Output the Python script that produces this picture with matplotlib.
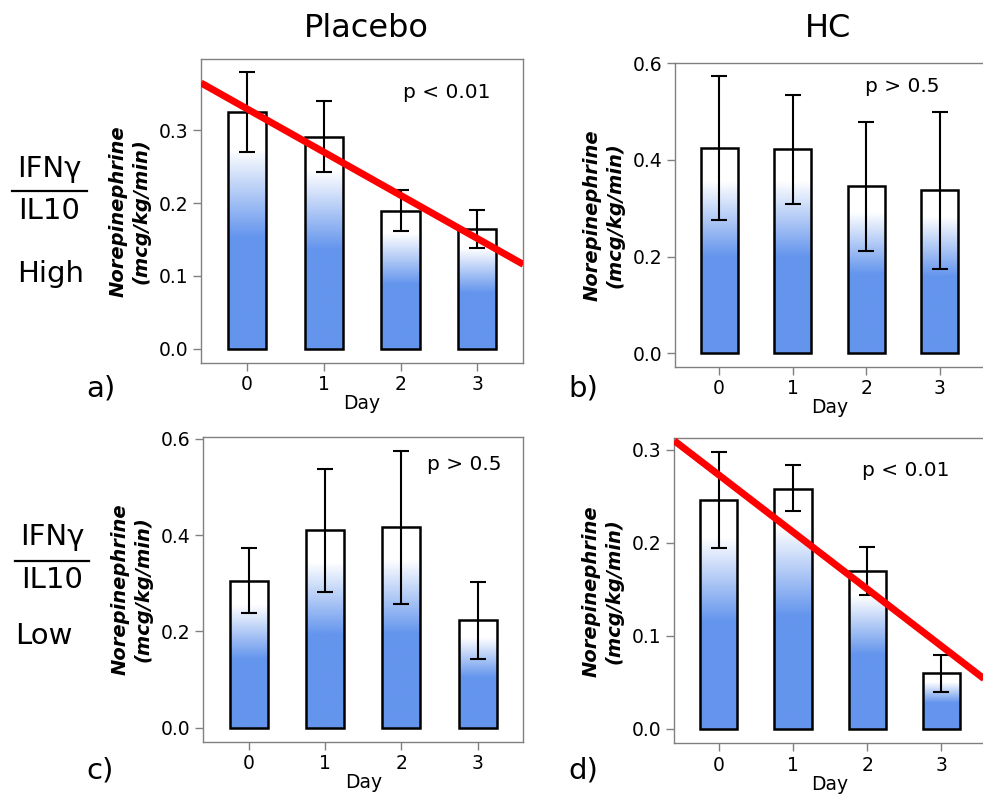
"""Norepinephrine dose by day: placebo vs HC, split by IFNγ/IL10 ratio."""

import numpy as np
import matplotlib
matplotlib.use("Agg")
import matplotlib.pyplot as plt
from matplotlib.colors import LinearSegmentedColormap
from matplotlib.lines import Line2D

W, H = 983, 794

days = [0, 1, 2, 3]

# a) placebo, high ratio
mean_a = [0.325, 0.291, 0.189, 0.164]
hi_a   = [0.379, 0.340, 0.218, 0.191]
lo_a   = [0.270, 0.242, 0.161, 0.138]
trend_a = (0.329, -0.0592)   # intercept, slope

# b) HC, high ratio
mean_b = [0.424, 0.422, 0.346, 0.337]
hi_b   = [0.574, 0.534, 0.478, 0.499]
lo_b   = [0.276, 0.308, 0.212, 0.174]

# c) placebo, low ratio
mean_c = [0.305, 0.411, 0.417, 0.223]
hi_c   = [0.373, 0.538, 0.576, 0.302]
lo_c   = [0.238, 0.283, 0.258, 0.143]

# d) HC, low ratio
mean_d = [0.246, 0.258, 0.170, 0.060]
hi_d   = [0.2975, 0.284, 0.196, 0.079]
lo_d   = [0.195, 0.234, 0.144, 0.040]
trend_d = (0.273, -0.0613)

BAR_W = 0.5
BLUE = "#6495ED"
SPINE = "#808080"

_cmap = LinearSegmentedColormap.from_list("bw", [BLUE, "white"])


def px_rect(left, top, right, bottom):
    return [left / W, 1 - bottom / H, (right - left) / W, (bottom - top) / H]


def _gradient(f1=0.47, f2=0.84, n=256):
    # solid blue at the base, linear fade, white cap at the top
    t = np.linspace(0, 1, n)
    c = np.clip((t - f1) / (f2 - f1), 0, 1)
    return c.reshape(-1, 1)


def draw_panel(ax, means, hi, lo, ylim, yticks, ptext, ppos, trend=None):
    means = np.array(means)
    grad = _gradient()
    for x, m in zip(days, means):
        ax.imshow(grad, extent=[x - BAR_W / 2, x + BAR_W / 2, 0, m],
                  origin="lower", aspect="auto", cmap=_cmap, vmin=0, vmax=1,
                  interpolation="bilinear", zorder=1)
    ax.bar(days, means, width=BAR_W, facecolor="none", edgecolor="black",
           linewidth=1.8, zorder=2)
    yerr = [means - np.array(lo), np.array(hi) - means]
    ax.errorbar(days, means, yerr=yerr, fmt="none", ecolor="black",
                elinewidth=1.5, capsize=6, capthick=1.5, zorder=3)
    if trend:
        xs = np.array([-0.6, 3.6])
        ax.plot(xs, trend[0] + trend[1] * xs, color="red", lw=5,
                solid_capstyle="butt", zorder=4)

    ax.set_xlim(-0.6, 3.6)
    ax.set_ylim(*ylim)
    ax.set_xticks(days)
    ax.set_yticks(yticks)
    ax.set_yticklabels([f"{v:.1f}" for v in yticks])
    for s in ax.spines.values():
        s.set_color(SPINE)
        s.set_linewidth(1)
    ax.tick_params(color=SPINE, length=6, width=1, labelsize=13.5, pad=3)
    ax.set_xlabel("Day", fontsize=13.5, labelpad=0)
    ax.set_ylabel("Norepinephrine\n(mcg/kg/min)", fontsize=14, fontweight="bold",
                  fontstyle="italic", labelpad=6, linespacing=1.25)
    ax.text(ppos[0], ppos[1], ptext, transform=ax.transAxes, fontsize=14.5,
            ha="left", va="baseline")


fig = plt.figure(figsize=(W / 100, H / 100), dpi=100)

ax_a = fig.add_axes(px_rect(201, 59, 523.3, 362.7))
ax_b = fig.add_axes(px_rect(675, 63.3, 984, 366.7))
ax_c = fig.add_axes(px_rect(203.3, 437.3, 523.3, 741.7))
ax_d = fig.add_axes(px_rect(674.3, 438.3, 986, 743.3))

draw_panel(ax_a, mean_a, hi_a, lo_a, (-0.0188, 0.3973), [0, 0.1, 0.2, 0.3],
           "p < 0.01", (0.627, 0.872), trend_a)
draw_panel(ax_b, mean_b, hi_b, lo_b, (-0.0276, 0.6), [0, 0.2, 0.4, 0.6],
           "p > 0.5", (0.615, 0.904))
draw_panel(ax_c, mean_c, hi_c, lo_c, (-0.029, 0.6035), [0, 0.2, 0.4, 0.6],
           "p > 0.5", (0.698, 0.893))
draw_panel(ax_d, mean_d, hi_d, lo_d, (-0.0154, 0.3124), [0, 0.1, 0.2, 0.3],
           "p < 0.01", (0.601, 0.877), trend_d)


def fig_text(x, y, s, **kw):
    fig.text(x / W, 1 - y / H, s, **kw)


# column titles
fig_text(366, 36.7, "Placebo", fontsize=23, ha="center", va="baseline")
fig_text(828, 36.7, "HC", fontsize=23, ha="center", va="baseline")

# row labels (ratio as a fraction)
for (y_num, y_line, y_den, y_lvl, x_lvl, x0, x1, lvl) in [
    (176.7, 191, 219, 282, 51, 12, 87, "High"),
    (545, 561, 588, 644, 44, 15, 89, "Low"),
]:
    xc = (x0 + x1) / 2
    fig_text(xc, y_num, "IFNγ", fontsize=21, ha="center", va="baseline")
    fig_text(xc, y_den, "IL10", fontsize=21, ha="center", va="baseline")
    fig_text(x_lvl, y_lvl, lvl, fontsize=21, ha="center", va="baseline")
    fig.add_artist(Line2D([x0 / W, x1 / W], [1 - y_line / H] * 2,
                          transform=fig.transFigure, color="black", lw=1.6))

# panel letters
for x, y, s in [(86, 396.7, "a)"), (568, 396.7, "b)"), (86, 779, "c)"), (568, 779, "d)")]:
    fig_text(x, y, s, fontsize=21, ha="left", va="baseline")

fig.savefig("out.png", dpi=100)
